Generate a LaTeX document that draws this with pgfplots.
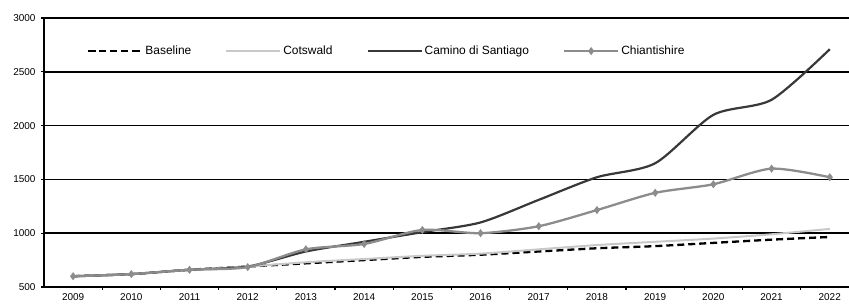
\documentclass[border=0pt]{standalone}
\usepackage{fontspec}
\setmainfont{Liberation Sans}
\usepackage{pgfplots}
\pgfplotsset{compat=1.18}
\definecolor{cots}{HTML}{C8C8C8}
\definecolor{cam}{HTML}{383838}
\definecolor{chi}{HTML}{8C8C8C}
\begin{document}
\begin{tikzpicture}
\useasboundingbox (-44bp,-21bp) rectangle (805bp,287bp);
\begin{axis}[
  at={(0,0)}, anchor=south west,
  scale only axis, width=805bp, height=269bp,
  xmin=2008.5, xmax=2022.33, ymin=500, ymax=3000,
  axis x line*=bottom, axis y line*=left,
  axis line style={black, line width=1.8bp},
  xtick={2009,...,2022},
  minor xtick={2009.5,2010.5,2011.5,2012.5,2013.5,2014.5,2015.5,2016.5,2017.5,2018.5,2019.5,2020.5,2021.5},
  major x tick style={draw=none},
  ytick={500,1000,1500,2000,2500,3000},
  tick align=outside, major tick length=3bp, minor tick length=3bp,
  tick style={black, line width=1.2bp},
  ymajorgrids, major grid style={black, line width=1.6bp},
  /pgf/number format/1000 sep={},
  /pgf/number format/assume math mode=true,
  xticklabel style={font=\fontsize{10}{11}\selectfont},
  yticklabel style={font=\fontsize{10}{11}\selectfont, xshift=-2bp},
  legend columns=4,
  legend style={draw=none, fill=none, at={(0.0534,0.877)}, anchor=west,
    font=\fontsize{12}{13}\selectfont, inner sep=0pt,
    /tikz/every even column/.append style={column sep=32bp}},
  legend image code/.code={\draw[mark repeat=2,mark phase=2,#1] plot coordinates {(0bp,0bp) (27bp,0bp) (54bp,0bp)};},
  every axis plot/.append style={smooth, tension=0.45},
]
\addplot[black, line width=2.3bp, dash pattern=on 7bp off 4bp, no markers] coordinates {
(2009,600) (2010,620) (2011,660) (2012,690) (2013,720) (2014,750) (2015,780)
(2016,800) (2017,830) (2018,860) (2019,880) (2020,910) (2021,940) (2022,965)};
\addlegendentry{Baseline}
\addplot[cots, line width=2bp, no markers] coordinates {
(2009,600) (2010,620) (2011,660) (2012,690) (2013,730) (2014,760) (2015,790)
(2016,810) (2017,850) (2018,890) (2019,920) (2020,950) (2021,990) (2022,1040)};
\addlegendentry{Cotswald}
\addplot[cam, line width=2.2bp, no markers] coordinates {
(2009,600) (2010,620) (2011,660) (2012,690) (2013,830) (2014,920) (2015,1010)
(2016,1100) (2017,1310) (2018,1520) (2019,1650) (2020,2100) (2021,2240) (2022,2710)};
\addlegendentry{Camino di Santiago}
\addplot[chi, line width=2.3bp, mark=diamond*, mark size=2.2bp, mark options={solid, fill=chi}] coordinates {
(2009,600) (2010,620) (2011,660) (2012,685) (2013,850) (2014,900) (2015,1030)
(2016,1000) (2017,1065) (2018,1215) (2019,1375) (2020,1455) (2021,1600) (2022,1520)};
\addlegendentry{Chiantishire}
\end{axis}
\end{tikzpicture}
\end{document}
